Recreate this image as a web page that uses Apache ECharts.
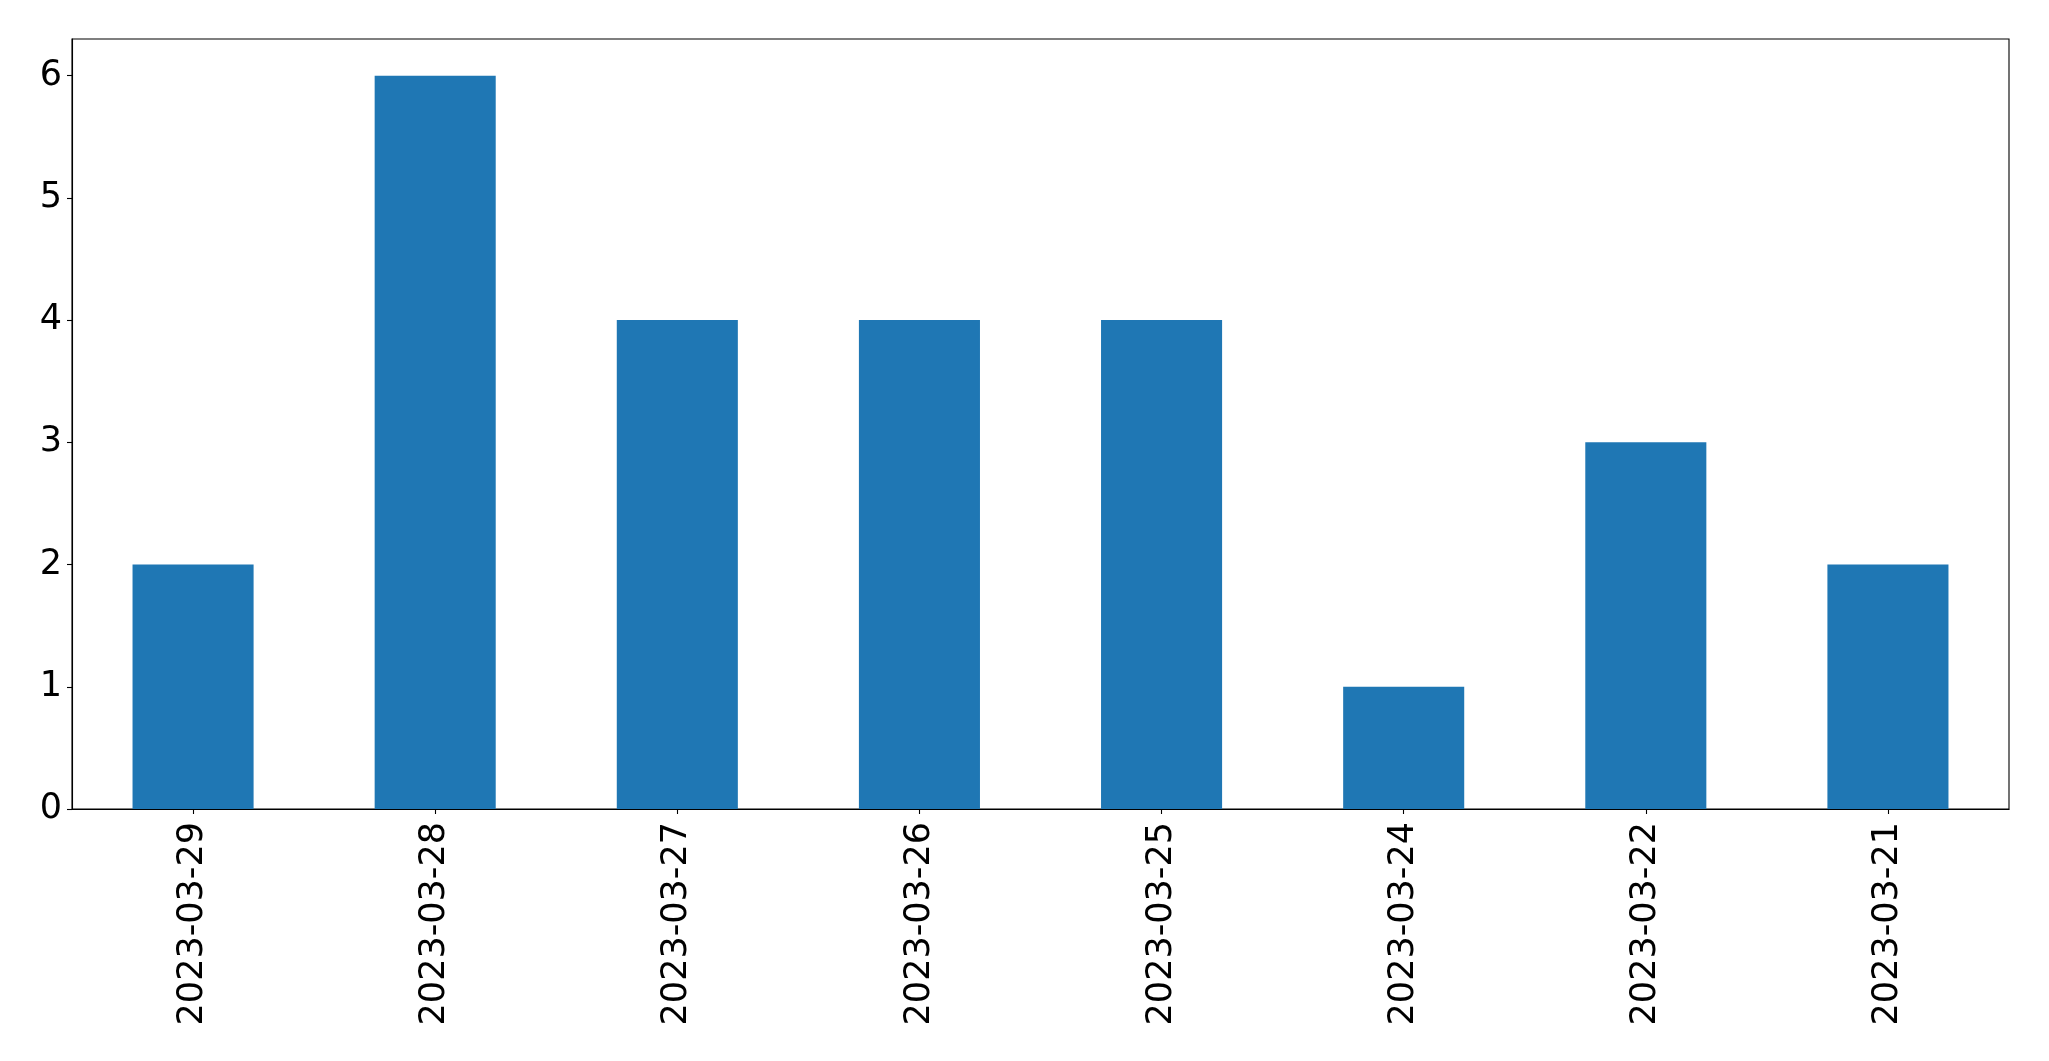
<!DOCTYPE html>
<html><head><meta charset="utf-8">
<script src="https://cdn.jsdelivr.net/npm/echarts@6/dist/echarts.min.js"></script>
<style>html,body{margin:0;padding:0;background:#fff}#c{width:2049px;height:1061px}</style>
</head><body><div id="c"></div>
<script>
const categories = ['2023-03-29','2023-03-28','2023-03-27','2023-03-26','2023-03-25','2023-03-24','2023-03-22','2023-03-21'];
const counts = [2, 6, 4, 4, 4, 1, 3, 2];
const yTicks = [0, 1, 2, 3, 4, 5, 6];
const yMax = 6.3;

const chart = echarts.init(document.getElementById('c'), null, {renderer: 'canvas'});
const font = 'DejaVu Sans';
chart.setOption({
  animation: false,
  backgroundColor: '#fff',
  grid: {left: 72, top: 39, width: 1937, height: 770, show: true, borderColor: '#000', borderWidth: 1.1, backgroundColor: 'transparent'},
  xAxis: {
    type: 'category', data: categories, boundaryGap: true,
    axisLine: {show: true, lineStyle: {color: '#000', width: 1.1}},
    axisTick: {show: true, alignWithLabel: true, length: 5, lineStyle: {color: '#000', width: 1.1}},
    axisLabel: {rotate: 90, margin: 13, color: '#000', fontFamily: font, fontSize: 35, interval: 0},
    splitLine: {show: false}
  },
  yAxis: {
    type: 'value', min: 0, max: yMax, interval: 1,
    axisLine: {show: true, lineStyle: {color: '#000', width: 1.1}},
    axisTick: {show: true, length: 5, customValues: yTicks, lineStyle: {color: '#000', width: 1.1}},
    axisLabel: {margin: 10, color: '#000', fontFamily: font, fontSize: 35, customValues: yTicks, padding: [8, 0, 0, 0]},
    splitLine: {show: false}
  },
  series: [{
    type: 'bar', data: counts, barWidth: '50%',
    itemStyle: {color: '#1f77b4'}
  }]
});
</script></body></html>
